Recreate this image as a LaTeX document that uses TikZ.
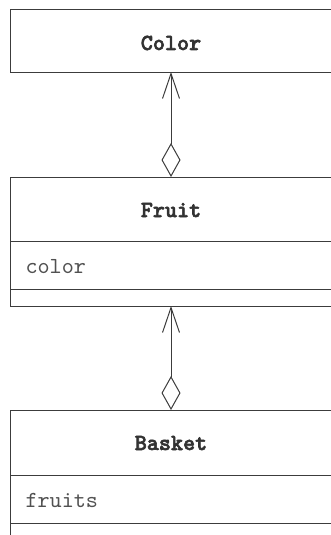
\documentclass[tikz,border=0pt]{standalone}
\usepackage{fontspec}
\usetikzlibrary{arrows.meta}
\newfontfamily\titlefont{lmmonolt10-bold}[Extension=.otf,FakeBold=2.5]
\newfontfamily\attrfont{lmmono10-regular}[Extension=.otf]
\definecolor{ink}{RGB}{60,60,60}
\definecolor{txt}{RGB}{50,50,50}
\begin{document}
\begin{tikzpicture}[x=1pt,y=-1pt,
  classbox/.style={draw=ink,line width=1pt,rectangle,inner sep=0pt},
  title/.style={font=\fontsize{23}{23}\titlefont,text=txt,anchor=base},
  attr/.style={font=\fontsize{23}{23}\attrfont,text=txt!85,anchor=base west},
  sep/.style={draw=ink,line width=1pt},
  agg/.style={draw=ink,line width=1pt,
    {Diamond[open,length=34pt,width=19pt,line width=1pt]}-{Straight Barb[length=25pt,width=17pt,line width=1pt]}}]
\clip (0,0) rectangle (331,535);
\fill[white] (0,0) rectangle (331,535);
% boxes
\node[classbox,minimum width=323pt,minimum height=62pt] (color) at (171.5,41) {};
\node[classbox,minimum width=323pt,minimum height=129pt] (fruit) at (171.5,241.5) {};
\node[classbox,minimum width=323pt,minimum height=130pt] (basket) at (171.5,475) {};
% separators
\coordinate (f1) at (10,241); \coordinate (f1e) at (333,241);
\coordinate (f2) at (10,289); \coordinate (f2e) at (333,289);
\coordinate (b1) at (10,475); \coordinate (b1e) at (333,475);
\coordinate (b2) at (10,523); \coordinate (b2e) at (333,523);
\draw[sep] (f1) -- (f1e);
\draw[sep] (f2) -- (f2e);
\draw[sep] (b1) -- (b1e);
\draw[sep] (b2) -- (b2e);
% texts
\node[title] (tcolor) at (171,50) {Color};
\node[title] (tfruit) at (171,217) {Fruit};
\node[title] (tbasket) at (171,450) {Basket};
\node[attr] (acolor) at (22,273) {color};
\node[attr] (afruits) at (22,507) {fruits};
% connectors
\coordinate (c1s) at (171,177); \coordinate (c1e) at (171,72);
\coordinate (c2s) at (171,410); \coordinate (c2e) at (171,306);
\draw[agg] (c1s) -- (c1e);
\draw[agg] (c2s) -- (c2e);
\end{tikzpicture}
\end{document}
